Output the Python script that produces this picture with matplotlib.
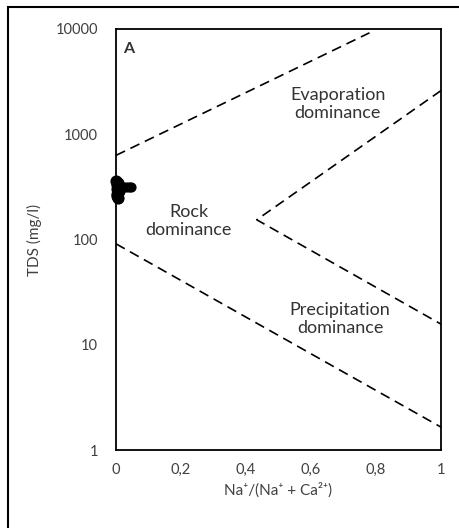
import matplotlib.pyplot as plt
from matplotlib.patches import Rectangle

plt.rcParams['font.family'] = ['Lato', 'DejaVu Sans']

# Gibbs boundary lines (Na/(Na+Ca), TDS)
upper_x = [0.0, 0.78]
upper_y = [630, 9200]
lower_x = [0.0, 1.0]
lower_y = [91, 1.65]
v_x = [1.0, 0.433, 1.0]
v_y = [2600, 154, 15.7]

# samples
ratio = [0.0, 0.002, 0.004, 0.003, 0.006, 0.008, 0.01, 0.005, 0.002, 0.007, 0.02, 0.03, 0.04, 0.045]
tds = [360, 330, 300, 270, 250, 290, 320, 345, 260, 310, 316, 318, 316, 314]

xticks = [0, 0.2, 0.4, 0.6, 0.8, 1]
xticklabels = ['0', '0,2', '0,4', '0,6', '0,8', '1']
yticks = [1, 10, 100, 1000, 10000]
yticklabels = ['1', '10', '100', '1000', '10000']

fig = plt.figure(figsize=(4.59, 5.28), dpi=100)
ax = fig.add_axes([116/459, 1-450/528, 325/459, 421/528])

# chart frame, cropped at right and bottom
fig.patches.append(Rectangle((8/459, -0.1), 1.2, 1.1-7/528, transform=fig.transFigure,
                             fill=False, edgecolor='black', linewidth=1.5, zorder=0))

ax.plot(upper_x, upper_y, 'k--', lw=1.2, dashes=(6, 3.6))
ax.plot(lower_x, lower_y, 'k--', lw=1.2, dashes=(6, 3.6))
ax.plot(v_x, v_y, 'k--', lw=1.2, dashes=(6, 3.6))
ax.scatter(ratio[:10], tds[:10], s=60, c='black', zorder=3, clip_on=False)
ax.scatter(ratio[10:], tds[10:], s=40, c='black', zorder=3, clip_on=False)

ax.set_yscale('log')
ax.set_xlim(0, 1)
ax.set_ylim(1, 10000)
ax.set_xticks(xticks)
ax.set_xticklabels(xticklabels)
ax.set_yticks(yticks)
ax.set_yticklabels(yticklabels)
ax.minorticks_off()
ax.tick_params(length=0, labelsize=10.5, colors='#404040', pad=9)
ax.tick_params(axis='y', pad=13)
for s in ax.spines.values():
    s.set_linewidth(1.3)

ax.set_xlabel('Na\u207a/(Na\u207a + Ca\u00b2\u207a)', fontsize=11, color='#404040', labelpad=4)
ax.set_ylabel('TDS (mg/l)', fontsize=11, color='#404040', labelpad=10)

ax.text(0.022, 0.952, 'A', transform=ax.transAxes, fontsize=11.5, fontweight='bold',
        color='#333333', va='center')
ax.text(0.682, 0.822, 'Evaporation\ndominance', transform=ax.transAxes, ha='center',
        va='center', fontsize=13, color='#333333', linespacing=1.2)
ax.text(0.224, 0.544, 'Rock\ndominance', transform=ax.transAxes, ha='center',
        va='center', fontsize=13, color='#333333', linespacing=1.2)
ax.text(0.69, 0.311, 'Precipitation\ndominance', transform=ax.transAxes, ha='center',
        va='center', fontsize=13, color='#333333', linespacing=1.2)

fig.savefig('out.png', dpi=100)
